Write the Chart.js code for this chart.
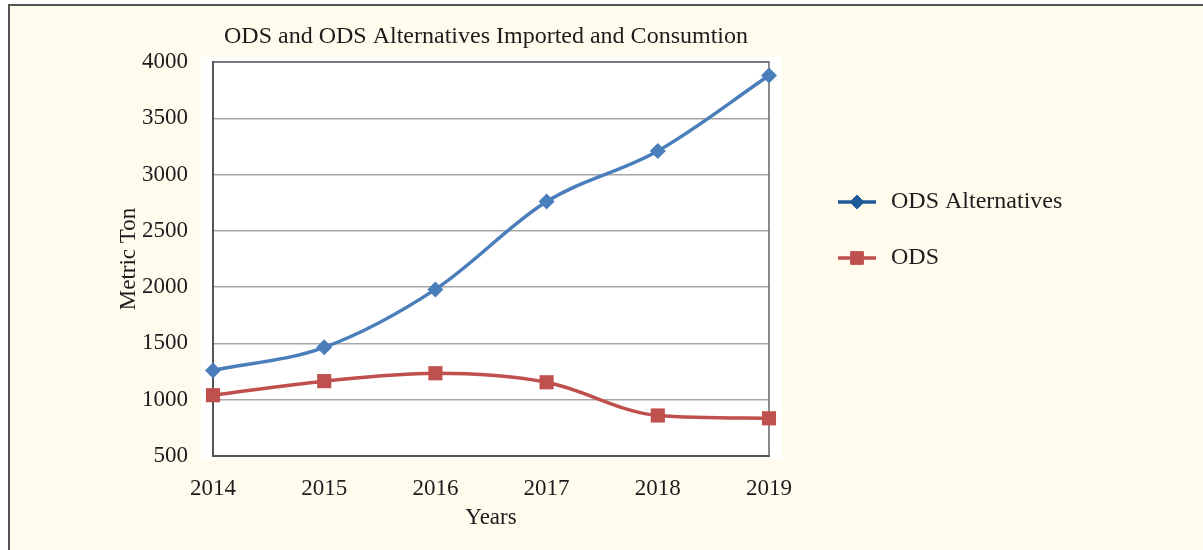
<!DOCTYPE html>
<html>
<head>
<meta charset="utf-8">
<script src="https://cdn.jsdelivr.net/npm/chart.js@4.4.0/dist/chart.umd.min.js"></script>
<style>
    html, body { margin: 0; padding: 0; background: #fff; }
    #wrap { width: 1203px; height: 550px; position: relative; }
</style>
</head>
<body>
<div id="wrap"><canvas id="chart"></canvas></div>
<script>
const years = ['2014', '2015', '2016', '2017', '2018', '2019'];
const odsAlternatives = [1260, 1465, 1980, 2760, 3210, 3880];
const ods = [1040, 1165, 1235, 1155, 860, 835];
const yMin = 500;
const yMax = 4000;
const yStep = 500;
const chartTitle = 'ODS and ODS Alternatives Imported and Consumtion';

const serif = "'Liberation Serif', 'Times New Roman', serif";
const textColor = '#1c1c1c';

// Page background, outer frame, white plot panel and the title
const backgroundPlugin = {
    id: 'background',
    beforeDraw(chart) {
        const { ctx, width, height, chartArea } = chart;
        ctx.save();
        ctx.fillStyle = '#fff';
        ctx.fillRect(0, 0, width, height);
        ctx.fillStyle = '#fffcee';
        ctx.fillRect(8, 4, width - 8, height - 4);
        ctx.fillStyle = '#555';
        ctx.fillRect(8, 4, width - 8, 2);
        ctx.fillRect(8, 4, 2, height - 4);
        ctx.fillStyle = '#fff';
        ctx.fillRect(chartArea.left - 12, chartArea.top - 5,
            chartArea.right - chartArea.left + 25, chartArea.bottom - chartArea.top + 9);

        ctx.fillStyle = textColor;
        ctx.font = '24px ' + serif;
        ctx.textAlign = 'center';
        ctx.textBaseline = 'middle';
        ctx.fillText(chartTitle, (chartArea.left + chartArea.right) / 2 - 5, 37);
        ctx.restore();
    },
    beforeDatasetsDraw(chart) {
        const { ctx, chartArea } = chart;
        ctx.save();
        ctx.strokeStyle = '#666';
        ctx.lineWidth = 1.5;
        ctx.beginPath();
        ctx.moveTo(chartArea.left, chartArea.top);
        ctx.lineTo(chartArea.right, chartArea.top);
        ctx.lineTo(chartArea.right, chartArea.bottom);
        ctx.stroke();
        ctx.restore();
    }
};

// Legend on the right: line with marker, like the spreadsheet style
const sideLegendPlugin = {
    id: 'sideLegend',
    afterDraw(chart, args, opts) {
        const ctx = chart.ctx;
        const x0 = chart.chartArea.right + 69;
        ctx.save();
        chart.data.datasets.forEach((ds, i) => {
            const y = opts.top + i * opts.gap;
            ctx.strokeStyle = ds.legendColor;
            ctx.lineWidth = 3.5;
            ctx.beginPath();
            ctx.moveTo(x0, y);
            ctx.lineTo(x0 + 38, y);
            ctx.stroke();
            ctx.fillStyle = ds.legendColor;
            ctx.strokeStyle = ds.legendColor;
            ctx.lineWidth = 1;
            Chart.helpers.drawPoint(ctx, {
                pointStyle: ds.pointStyle,
                radius: ds.legendRadius,
                rotation: 0,
                borderWidth: 1
            }, x0 + 19, y);
            ctx.fillStyle = textColor;
            ctx.font = '24px ' + serif;
            ctx.textBaseline = 'middle';
            ctx.textAlign = 'left';
            ctx.fillText(ds.label, x0 + 53, y);
        });
        ctx.restore();
    }
};

const ctx = document.getElementById('chart').getContext('2d');
new Chart(ctx, {
    type: 'line',
    data: {
        labels: years,
        datasets: [{
            label: 'ODS Alternatives',
            data: odsAlternatives,
            borderColor: '#4a7ebb',
            backgroundColor: '#4a7ebb',
            legendColor: '#1f5b98',
            borderWidth: 3.5,
            cubicInterpolationMode: 'monotone',
            pointStyle: 'rectRot',
            pointRadius: 8,
            legendRadius: 7,
            pointBorderWidth: 0,
            clip: false
        }, {
            label: 'ODS',
            data: ods,
            borderColor: '#c0504d',
            backgroundColor: '#c0504d',
            legendColor: '#c0504d',
            borderWidth: 3.5,
            cubicInterpolationMode: 'monotone',
            pointStyle: 'rect',
            pointRadius: 10,
            legendRadius: 9,
            pointBorderWidth: 0,
            clip: false
        }]
    },
    options: {
        responsive: true,
        maintainAspectRatio: false,
        devicePixelRatio: 1,
        animation: false,
        layout: {
            padding: { left: 100, right: 434, top: 62, bottom: 18 }
        },
        plugins: {
            legend: { display: false },
            tooltip: { enabled: false },
            title: { display: false },
            sideLegend: { top: 202, gap: 56 }
        },
        scales: {
            x: {
                offset: false,
                grid: { display: false, drawTicks: false },
                border: { display: true, color: '#555', width: 2 },
                ticks: {
                    color: textColor,
                    font: { family: serif, size: 23 },
                    padding: 19,
                    maxRotation: 0
                },
                title: {
                    display: true,
                    text: 'Years',
                    color: textColor,
                    font: { family: serif, size: 23 },
                    padding: { top: 4, bottom: 0 }
                },
                afterFit(scale) { scale.height = 76; }
            },
            y: {
                min: yMin,
                max: yMax,
                grid: { color: '#a6a6a6', lineWidth: 1.5, drawTicks: false },
                border: { display: true, color: '#555', width: 2 },
                ticks: {
                    stepSize: yStep,
                    color: textColor,
                    font: { family: serif, size: 23 },
                    padding: 25,
                    callback: value => String(value)
                },
                title: {
                    display: true,
                    text: 'Metric Ton',
                    color: textColor,
                    font: { family: serif, size: 23 },
                    padding: { top: 15, bottom: 0 }
                },
                afterFit(scale) { scale.width = 113; }
            }
        }
    },
    plugins: [backgroundPlugin, sideLegendPlugin]
});
</script>
</body>
</html>
